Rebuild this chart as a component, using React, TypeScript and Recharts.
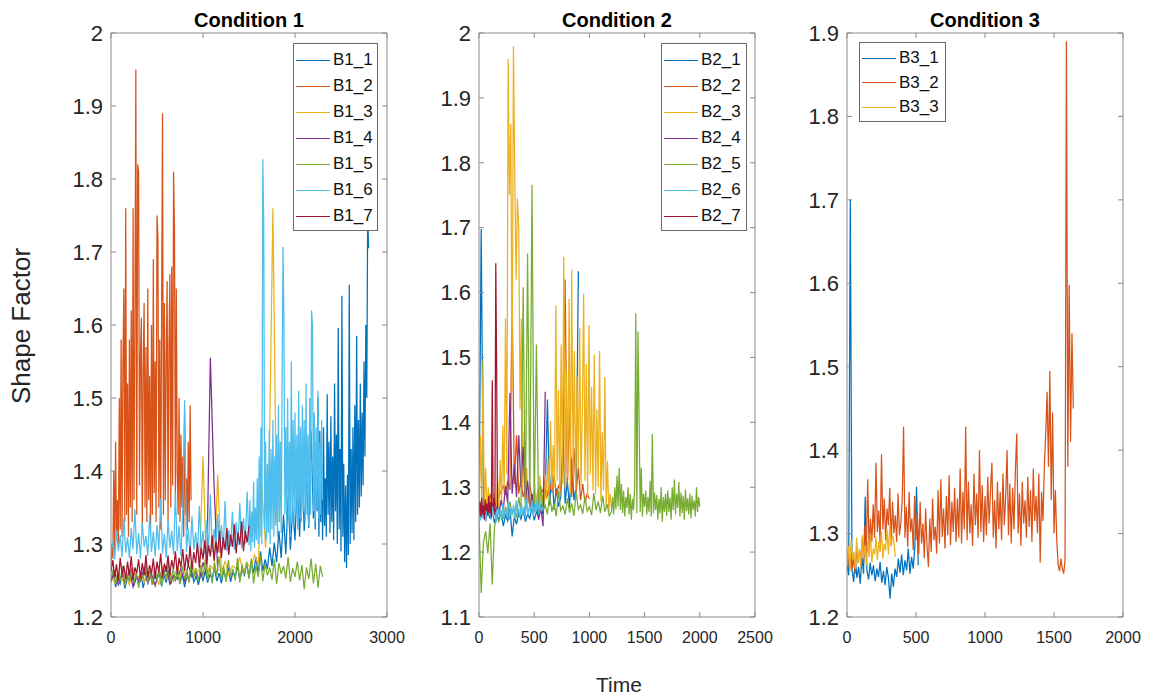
import { LineChart, Line, XAxis, YAxis } from "recharts";

const COLORS = ["#0072BD", "#D95319", "#EDB120", "#7E2F8E", "#77AC30", "#4DBEEE", "#A2142F"];
const AXIS = "#8a8a8a";
const TXT = "#262626";

// ---- Condition 1 ----
const b1Names = ["B1_1", "B1_2", "B1_3", "B1_4", "B1_5", "B1_6", "B1_7"];

// B1_1: 0..2175 every 25, then 2200..2800 every 10
const b1_1a = [
  1.248, 1.259, 1.241, 1.255, 1.246, 1.262, 1.239, 1.253, 1.25, 1.258,
  1.243, 1.257, 1.247, 1.261, 1.24, 1.254, 1.249, 1.263, 1.244, 1.256,
  1.251, 1.26, 1.242, 1.258, 1.247, 1.264, 1.245, 1.255, 1.25, 1.262,
  1.246, 1.259, 1.241, 1.257, 1.252, 1.265, 1.248, 1.256, 1.244, 1.261,
  1.25, 1.263, 1.247, 1.258, 1.253, 1.267, 1.249, 1.26, 1.246, 1.264,
  1.252, 1.268, 1.248, 1.262, 1.255, 1.27, 1.251, 1.265, 1.257, 1.273,
  1.254, 1.275, 1.26, 1.282, 1.258, 1.29, 1.263, 1.279, 1.266, 1.295,
  1.27, 1.302, 1.275, 1.318, 1.281, 1.34, 1.286, 1.365, 1.292, 1.35,
  1.305, 1.392, 1.31, 1.42, 1.318, 1.385, 1.322, 1.455,
];
const b1_1b = [
  1.335, 1.47, 1.32, 1.43, 1.345, 1.5, 1.31, 1.455, 1.33, 1.41,
  1.305, 1.46, 1.325, 1.39, 1.31, 1.505, 1.34, 1.44, 1.315, 1.475,
  1.33, 1.42, 1.305, 1.52, 1.345, 1.45, 1.3, 1.596, 1.32, 1.43,
  1.29, 1.64, 1.31, 1.41, 1.275, 1.38, 1.267, 1.395, 1.285, 1.655,
  1.3, 1.43, 1.315, 1.46, 1.305, 1.49, 1.33, 1.585, 1.34, 1.47,
  1.35, 1.52, 1.365, 1.48, 1.38, 1.55, 1.42, 1.6, 1.5, 1.752,
  1.705,
];
// B1_2: 0..870 every 10
const b1_2 = [
  1.27, 1.3, 1.28, 1.4, 1.29, 1.44, 1.31, 1.36, 1.3, 1.5,
  1.32, 1.58, 1.31, 1.55, 1.65, 1.33, 1.76, 1.34, 1.52, 1.31,
  1.58, 1.35, 1.62, 1.33, 1.76, 1.36, 1.6, 1.95, 1.34, 1.82,
  1.81, 1.38, 1.56, 1.61, 1.32, 1.54, 1.63, 1.35, 1.57, 1.33,
  1.65, 1.36, 1.53, 1.31, 1.6, 1.34, 1.69, 1.37, 1.55, 1.33,
  1.75, 1.72, 1.35, 1.58, 1.32, 1.61, 1.89, 1.34, 1.63, 1.36,
  1.56, 1.66, 1.33, 1.57, 1.67, 1.35, 1.68, 1.38, 1.81, 1.73,
  1.36, 1.65, 1.4, 1.34, 1.5, 1.33, 1.45, 1.35, 1.42, 1.31,
  1.48, 1.34, 1.39, 1.32, 1.44, 1.33, 1.49, 1.36,
];
// B1_3: 0..1800 every 40
const b1_3 = [
  1.255, 1.247, 1.262, 1.25, 1.258, 1.244, 1.266, 1.252, 1.259, 1.248,
  1.263, 1.251, 1.257, 1.245, 1.268, 1.253, 1.261, 1.249, 1.27, 1.256,
  1.262, 1.25, 1.274, 1.258, 1.265, 1.42, 1.259, 1.271, 1.264, 1.395,
  1.262, 1.276, 1.258, 1.27, 1.266, 1.281, 1.261, 1.273, 1.268, 1.285,
  1.272, 1.38, 1.295, 1.41, 1.76, 1.33,
];
// B1_4: 0..1160 every 40
const b1_4 = [
  1.25, 1.262, 1.244, 1.258, 1.247, 1.265, 1.241, 1.255, 1.249, 1.268,
  1.246, 1.259, 1.243, 1.263, 1.251, 1.27, 1.245, 1.257, 1.252, 1.266,
  1.248, 1.272, 1.255, 1.261, 1.25, 1.275, 1.258, 1.555, 1.38, 1.263,
];
// B1_5: 0..2300 every 25
const b1_5 = [
  1.252, 1.266, 1.245, 1.261, 1.249, 1.27, 1.243, 1.258, 1.251, 1.267,
  1.246, 1.262, 1.24, 1.259, 1.253, 1.272, 1.247, 1.263, 1.244, 1.268,
  1.25, 1.265, 1.242, 1.261, 1.255, 1.274, 1.248, 1.266, 1.251, 1.262,
  1.245, 1.27, 1.252, 1.264, 1.247, 1.276, 1.254, 1.267, 1.249, 1.271,
  1.256, 1.279, 1.25, 1.268, 1.246, 1.275, 1.257, 1.283, 1.251, 1.269,
  1.248, 1.278, 1.255, 1.266, 1.25, 1.281, 1.247, 1.272, 1.258, 1.276,
  1.252, 1.28, 1.246, 1.27, 1.255, 1.284, 1.249, 1.273, 1.257, 1.268,
  1.251, 1.279, 1.245, 1.274, 1.259, 1.27, 1.253, 1.282, 1.248, 1.267,
  1.255, 1.276, 1.25, 1.271, 1.238, 1.268, 1.252, 1.28, 1.246, 1.273,
  1.24, 1.27, 1.255,
];
// B1_6: 0..1480 every 20, then 1500..2300 every 10
const b1_6a = [
  1.285, 1.305, 1.279, 1.318, 1.29, 1.312, 1.282, 1.335, 1.288, 1.309,
  1.281, 1.322, 1.293, 1.348, 1.286, 1.315, 1.28, 1.329, 1.296, 1.311,
  1.284, 1.34, 1.289, 1.317, 1.283, 1.326, 1.292, 1.362, 1.287, 1.314,
  1.281, 1.333, 1.295, 1.318, 1.286, 1.371, 1.29, 1.325, 1.284, 1.346,
  1.497, 1.289, 1.321, 1.283, 1.338, 1.292, 1.316, 1.287, 1.352, 1.294,
  1.318, 1.286, 1.332, 1.291, 1.368, 1.289, 1.32, 1.295, 1.341, 1.288,
  1.326, 1.293, 1.359, 1.29, 1.319, 1.297, 1.344, 1.292, 1.33, 1.298,
  1.356, 1.294, 1.336, 1.3, 1.372,
];
const b1_6b = [
  1.298, 1.36, 1.29, 1.345, 1.302, 1.385, 1.295, 1.35, 1.305, 1.39,
  1.3, 1.42, 1.31, 1.46, 1.3, 1.827, 1.74, 1.32, 1.44, 1.305,
  1.41, 1.315, 1.455, 1.3, 1.43, 1.32, 1.47, 1.31, 1.42, 1.325,
  1.45, 1.31, 1.49, 1.33, 1.44, 1.315, 1.52, 1.707, 1.6, 1.34,
  1.46, 1.32, 1.5, 1.335, 1.44, 1.31, 1.55, 1.33, 1.47, 1.325,
  1.48, 1.34, 1.45, 1.32, 1.51, 1.335, 1.46, 1.33, 1.49, 1.345,
  1.47, 1.33, 1.52, 1.34, 1.45, 1.325, 1.5, 1.34, 1.62, 1.6,
  1.345, 1.48, 1.33, 1.46, 1.35, 1.51, 1.335, 1.44, 1.34, 1.47,
  1.36,
];
// B1_7: 0..1500 every 20
const b1_7 = [
  1.262, 1.278, 1.255, 1.272, 1.249, 1.281, 1.258, 1.27, 1.252, 1.276,
  1.256, 1.283, 1.251, 1.268, 1.26, 1.279, 1.253, 1.274, 1.257, 1.285,
  1.254, 1.271, 1.259, 1.28, 1.252, 1.276, 1.261, 1.287, 1.255, 1.273,
  1.262, 1.284, 1.257, 1.278, 1.266, 1.29, 1.259, 1.281, 1.268, 1.293,
  1.263, 1.286, 1.27, 1.297, 1.265, 1.289, 1.274, 1.301, 1.268, 1.295,
  1.279, 1.305, 1.272, 1.298, 1.283, 1.312, 1.277, 1.303, 1.288, 1.318,
  1.281, 1.309, 1.292, 1.322, 1.285, 1.313, 1.296, 1.327, 1.287, 1.316,
  1.299, 1.331, 1.29, 1.318, 1.302, 1.325,
];

// ---- Condition 2 ----
const b2Names = ["B2_1", "B2_2", "B2_3", "B2_4", "B2_5", "B2_6", "B2_7"];

// B2_1: 0..900 every 20
const b2_1 = [
  1.255, 1.698, 1.262, 1.248, 1.27, 1.252, 1.265, 1.245, 1.258, 1.25,
  1.262, 1.24, 1.257, 1.248, 1.268, 1.224, 1.255, 1.243, 1.26, 1.251,
  1.265, 1.247, 1.258, 1.252, 1.27, 1.249, 1.262, 1.255, 1.275, 1.258,
  1.29, 1.435, 1.272, 1.33, 1.265, 1.298, 1.27, 1.285, 1.38, 1.275,
  1.31, 1.268, 1.345, 1.28, 1.3, 1.633,
];
// B2_2: 0..1000 every 20
const b2_2 = [
  1.262, 1.274, 1.258, 1.281, 1.265, 1.29, 1.27, 1.278, 1.268, 1.285,
  1.295, 1.302, 1.288, 1.31, 1.296, 1.6, 1.305, 1.38, 1.29, 1.312,
  1.285, 1.298, 1.278, 1.305, 1.282, 1.293, 1.276, 1.3, 1.288, 1.296,
  1.31, 1.285, 1.305, 1.292, 1.318, 1.288, 1.302, 1.295, 1.34, 1.62,
  1.3, 1.42, 1.285, 1.36, 1.292, 1.33, 1.28, 1.305, 1.276, 1.29,
  1.282,
];
// B2_3: 0..1200 every 12
const b2_3 = [
  1.262, 1.38, 1.275, 1.495, 1.268, 1.33, 1.258, 1.3, 1.265, 1.282,
  1.257, 1.29, 1.27, 1.262, 1.315, 1.268, 1.342, 1.275, 1.395, 1.29,
  1.56, 1.32, 1.96, 1.75, 1.86, 1.45, 1.98, 1.78, 1.62, 1.745,
  1.7, 1.42, 1.56, 1.3, 1.385, 1.282, 1.33, 1.275, 1.298, 1.27,
  1.285, 1.268, 1.305, 1.272, 1.292, 1.266, 1.318, 1.275, 1.288, 1.27,
  1.32, 1.281, 1.345, 1.29, 1.402, 1.295, 1.365, 1.3, 1.58, 1.31,
  1.45, 1.285, 1.52, 1.305, 1.655, 1.298, 1.48, 1.315, 1.59, 1.29,
  1.635, 1.32, 1.51, 1.295, 1.47, 1.33, 1.545, 1.3, 1.415, 1.598,
  1.31, 1.49, 1.285, 1.55, 1.32, 1.455, 1.295, 1.505, 1.29, 1.42,
  1.3, 1.51, 1.278, 1.385, 1.295, 1.47, 1.27, 1.34, 1.262, 1.29,
  1.268,
];
// B2_4: 0..600 every 20
const b2_4 = [
  1.262, 1.255, 1.27, 1.258, 1.266, 1.252, 1.275, 1.26, 1.268, 1.257,
  1.28, 1.265, 1.302, 1.275, 1.445, 1.29, 1.335, 1.285, 1.38, 1.3,
  1.362, 1.28, 1.31, 1.268, 1.29, 1.262, 1.275, 1.25, 1.268, 1.24,
  1.447,
];
// B2_5: 0..1180 every 20, then 1200..2000 every 10
const b2_5a = [
  1.25, 1.137, 1.215, 1.232, 1.198, 1.244, 1.15, 1.238, 1.256, 1.247,
  1.262, 1.251, 1.27, 1.255, 1.278, 1.258, 1.266, 1.253, 1.285, 1.26,
  1.608, 1.255, 1.66, 1.27, 1.766, 1.262, 1.52, 1.258, 1.302, 1.265,
  1.272, 1.258, 1.289, 1.262, 1.276, 1.255, 1.294, 1.264, 1.271, 1.258,
  1.283, 1.261, 1.275, 1.256, 1.292, 1.266, 1.273, 1.259, 1.286, 1.263,
  1.27, 1.257, 1.291, 1.265, 1.278, 1.26, 1.287, 1.262, 1.274, 1.256,
];
const b2_5b = [
  1.262, 1.285, 1.258, 1.3, 1.266, 1.318, 1.27, 1.33, 1.265, 1.305,
  1.26, 1.295, 1.255, 1.285, 1.268, 1.3, 1.258, 1.29, 1.25, 1.282,
  1.265, 1.3, 1.568, 1.26, 1.54, 1.41, 1.262, 1.33, 1.255, 1.29,
  1.27, 1.295, 1.258, 1.285, 1.262, 1.31, 1.255, 1.382, 1.26, 1.292,
  1.265, 1.288, 1.25, 1.282, 1.26, 1.3, 1.247, 1.285, 1.262, 1.29,
  1.256, 1.295, 1.262, 1.284, 1.25, 1.3, 1.265, 1.312, 1.258, 1.29,
  1.268, 1.308, 1.255, 1.292, 1.26, 1.287, 1.25, 1.296, 1.263, 1.283,
  1.258, 1.29, 1.252, 1.287, 1.265, 1.28, 1.255, 1.3, 1.262, 1.285,
  1.27,
];
// B2_6: 0..576 every 12
const b2_6 = [
  1.258, 1.249, 1.266, 1.252, 1.261, 1.247, 1.268, 1.255, 1.263, 1.25,
  1.27, 1.254, 1.262, 1.246, 1.272, 1.257, 1.265, 1.249, 1.274, 1.252,
  1.266, 1.255, 1.278, 1.25, 1.268, 1.258, 1.273, 1.251, 1.28, 1.256,
  1.267, 1.253, 1.276, 1.259, 1.27, 1.254, 1.282, 1.257, 1.271, 1.26,
  1.279, 1.255, 1.274, 1.262, 1.284, 1.258, 1.277, 1.263, 1.27,
];
// B2_7: 0..168 every 8
const b2_7 = [
  1.262, 1.278, 1.255, 1.284, 1.258, 1.272, 1.25, 1.281, 1.263, 1.275,
  1.256, 1.286, 1.26, 1.277, 1.253, 1.465, 1.27, 1.283, 1.258, 1.645,
  1.48, 1.266,
];

// ---- Condition 3 ----
const b3Names = ["B3_1", "B3_2", "B3_3"];

// B3_1: 0..516 every 12
const b3_1 = [
  1.262, 1.25, 1.7, 1.258, 1.242, 1.268, 1.247, 1.26, 1.24, 1.272,
  1.252, 1.344, 1.256, 1.245, 1.265, 1.25, 1.262, 1.243, 1.258, 1.248,
  1.266, 1.241, 1.255, 1.238, 1.26, 1.247, 1.222, 1.252, 1.236, 1.258,
  1.248, 1.27, 1.253, 1.275, 1.25, 1.268, 1.256, 1.282, 1.252, 1.272,
  1.258, 1.285, 1.356, 1.262,
];
// B3_2: 0..1640 every 10
const b3_2 = [
  1.262, 1.275, 1.255, 1.28, 1.258, 1.271, 1.252, 1.284, 1.266, 1.278,
  1.27, 1.292, 1.265, 1.31, 1.275, 1.365, 1.282, 1.318, 1.29, 1.335,
  1.295, 1.385, 1.302, 1.328, 1.288, 1.395, 1.305, 1.342, 1.292, 1.33,
  1.31, 1.355, 1.285, 1.338, 1.3, 1.322, 1.29, 1.348, 1.298, 1.312,
  1.34, 1.428, 1.295, 1.332, 1.284, 1.35, 1.302, 1.318, 1.28, 1.345,
  1.292, 1.325, 1.275, 1.338, 1.288, 1.312, 1.27, 1.33, 1.284, 1.26,
  1.318, 1.278, 1.342, 1.292, 1.308, 1.276, 1.352, 1.288, 1.365, 1.296,
  1.33, 1.282, 1.345, 1.298, 1.37, 1.286, 1.338, 1.302, 1.355, 1.29,
  1.342, 1.295, 1.378, 1.288, 1.35, 1.305, 1.428, 1.292, 1.362, 1.3,
  1.335, 1.285, 1.372, 1.31, 1.348, 1.295, 1.4, 1.302, 1.358, 1.29,
  1.345, 1.298, 1.368, 1.312, 1.352, 1.385, 1.295, 1.34, 1.282, 1.362,
  1.305, 1.35, 1.292, 1.372, 1.31, 1.345, 1.4, 1.298, 1.36, 1.288,
  1.355, 1.305, 1.375, 1.42, 1.3, 1.348, 1.285, 1.362, 1.312, 1.34,
  1.295, 1.368, 1.308, 1.352, 1.29, 1.378, 1.315, 1.345, 1.3, 1.372,
  1.265, 1.35, 1.315, 1.38, 1.42, 1.47, 1.38, 1.495, 1.34, 1.445,
  1.3, 1.352, 1.292, 1.262, 1.255, 1.27, 1.258, 1.252, 1.268, 1.89,
  1.38, 1.598, 1.41, 1.54, 1.45,
];
// B3_3: 0..350 every 10
const b3_3 = [
  1.262, 1.285, 1.255, 1.292, 1.268, 1.278, 1.258, 1.295, 1.264, 1.282,
  1.26, 1.298, 1.27, 1.286, 1.262, 1.29, 1.272, 1.3, 1.265, 1.282,
  1.275, 1.296, 1.268, 1.29, 1.278, 1.302, 1.27, 1.288, 1.28, 1.305,
  1.275, 1.312, 1.285, 1.298, 1.29, 1.272,
];

// axis ticks
const x1Ticks = [0, 1000, 2000, 3000];
const x2Ticks = [0, 500, 1000, 1500, 2000, 2500];
const x3Ticks = [0, 500, 1000, 1500, 2000];
const y1Ticks = [1.2, 1.3, 1.4, 1.5, 1.6, 1.7, 1.8, 1.9, 2];
const y2Ticks = [1.1, 1.2, 1.3, 1.4, 1.5, 1.6, 1.7, 1.8, 1.9, 2];
const y3Ticks = [1.2, 1.3, 1.4, 1.5, 1.6, 1.7, 1.8, 1.9];

type Part = [number, number, number[]]; // start time, time step, values
const toRows = (parts: Part[]) =>
  parts.flatMap(([t0, dt, vals]) => vals.map((v, i) => ({ t: t0 + i * dt, v })));

const panels = [
  {
    title: "Condition 1",
    plotLeft: 111,
    names: b1Names,
    series: [
      [[0, 25, b1_1a], [2200, 10, b1_1b]],
      [[0, 10, b1_2]],
      [[0, 40, b1_3]],
      [[0, 40, b1_4]],
      [[0, 25, b1_5]],
      [[0, 20, b1_6a], [1500, 10, b1_6b]],
      [[0, 20, b1_7]],
    ].map((p) => toRows(p as Part[])),
    xDomain: [0, 3000],
    xTicks: x1Ticks,
    yDomain: [1.2, 2],
    yTicks: y1Ticks,
    legend: { left: 293, top: 43, width: 85, row: 26 },
  },
  {
    title: "Condition 2",
    plotLeft: 479,
    names: b2Names,
    series: [
      [[0, 20, b2_1]],
      [[0, 20, b2_2]],
      [[0, 12, b2_3]],
      [[0, 20, b2_4]],
      [[0, 20, b2_5a], [1200, 10, b2_5b]],
      [[0, 12, b2_6]],
      [[0, 8, b2_7]],
    ].map((p) => toRows(p as Part[])),
    xDomain: [0, 2500],
    xTicks: x2Ticks,
    yDomain: [1.1, 2],
    yTicks: y2Ticks,
    legend: { left: 661, top: 43, width: 86, row: 26 },
  },
  {
    title: "Condition 3",
    plotLeft: 847,
    names: b3Names,
    series: [
      [[0, 12, b3_1]],
      [[0, 10, b3_2]],
      [[0, 10, b3_3]],
    ].map((p) => toRows(p as Part[])),
    xDomain: [0, 2000],
    xTicks: x3Ticks,
    yDomain: [1.2, 1.9],
    yTicks: y3Ticks,
    legend: { left: 859, top: 42, width: 87, row: 24.5 },
  },
];

const PLOT_W = 276;
const PAD_L = 80;
const PAD_R = 30;

function Panel({ p }: { p: (typeof panels)[number] }) {
  return (
    <div style={{ position: "absolute", left: p.plotLeft - PAD_L, top: 0 }}>
      <LineChart
        width={PAD_L + PLOT_W + 1 + PAD_R}
        height={699}
        margin={{ top: 32, right: PAD_R, bottom: 52, left: 0 }}
      >
        <XAxis
          type="number"
          dataKey="t"
          domain={p.xDomain}
          ticks={p.xTicks}
          interval={0}
          allowDataOverflow
          height={30}
          stroke={AXIS}
          tickSize={-5}
          tickMargin={20}
          tick={{ fontSize: 16, fill: TXT }}
        />
        <XAxis
          xAxisId="top"
          orientation="top"
          type="number"
          dataKey="t"
          domain={p.xDomain}
          ticks={p.xTicks}
          interval={0}
          allowDataOverflow
          height={1}
          stroke={AXIS}
          tickSize={-5}
          tickFormatter={() => ""}
        />
        <YAxis
          type="number"
          domain={p.yDomain}
          ticks={p.yTicks}
          interval={0}
          allowDataOverflow
          width={PAD_L}
          stroke={AXIS}
          tickSize={-5}
          tickMargin={13}
          tick={{ fontSize: 22, fill: TXT }}
          tickFormatter={(v: number) => String(v)}
        />
        <YAxis
          yAxisId="r"
          orientation="right"
          type="number"
          domain={p.yDomain}
          ticks={p.yTicks}
          interval={0}
          allowDataOverflow
          width={1}
          stroke={AXIS}
          tickSize={-5}
          tickFormatter={() => ""}
        />
        {/* invisible copy so the mirrored box axes get drawn */}
        <Line
          data={p.series[0]}
          xAxisId="top"
          yAxisId="r"
          dataKey="v"
          stroke="none"
          dot={false}
          activeDot={false}
          legendType="none"
          isAnimationActive={false}
        />
        {p.series.map((rows, i) => (
          <Line
            key={p.names[i]}
            data={rows}
            dataKey="v"
            type="linear"
            stroke={COLORS[i]}
            strokeWidth={1.25}
            dot={false}
            isAnimationActive={false}
          />
        ))}
      </LineChart>
    </div>
  );
}

function LegendBox({ p }: { p: (typeof panels)[number] }) {
  const { left, top, width, row } = p.legend;
  return (
    <div
      style={{
        position: "absolute",
        left,
        top,
        width,
        height: row * p.names.length + 6,
        border: "1px solid #6a6a6a",
        background: "#fff",
        boxSizing: "border-box",
      }}
    >
      {p.names.map((n, i) => (
        <div
          key={n}
          style={{
            position: "absolute",
            left: 2,
            top: 3 + i * row,
            height: row,
            display: "flex",
            alignItems: "center",
          }}
        >
          <div style={{ width: 34, height: 1, background: COLORS[i] }} />
          <span style={{ marginLeft: 3, fontSize: 17, color: "#111" }}>{n}</span>
        </div>
      ))}
    </div>
  );
}

export default function App() {
  return (
    <div
      style={{
        position: "absolute",
        left: 0,
        top: 0,
        width: 1153,
        height: 699,
        background: "#fff",
        fontFamily: "'Liberation Sans', Arial, sans-serif",
        overflow: "hidden",
      }}
    >
      {panels.map((p) => (
        <Panel key={p.title} p={p} />
      ))}
      {panels.map((p) => (
        <LegendBox key={p.title} p={p} />
      ))}
      <svg
        width={1153}
        height={699}
        style={{ position: "absolute", left: 0, top: 0, pointerEvents: "none" }}
      >
        {panels.map((p) => (
          <text
            key={p.title}
            x={p.plotLeft + PLOT_W / 2}
            y={27}
            textAnchor="middle"
            fontSize={20}
            fontWeight="bold"
            fill="#000"
          >
            {p.title}
          </text>
        ))}
        <text
          x={30}
          y={326}
          transform="rotate(-90 30 326)"
          textAnchor="middle"
          fontSize={26}
          fill={TXT}
        >
          Shape Factor
        </text>
        <text x={619} y={692} textAnchor="middle" fontSize={21} fill={TXT}>
          Time
        </text>
      </svg>
    </div>
  );
}
